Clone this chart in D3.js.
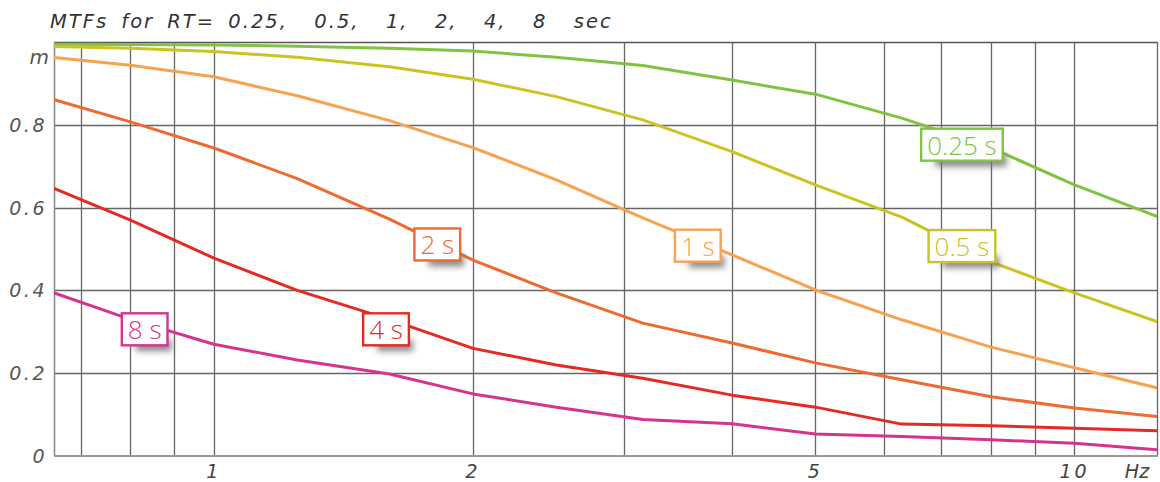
<!DOCTYPE html>
<html>
<head>
<meta charset="utf-8">
<script src="https://cdn.jsdelivr.net/npm/d3@7/dist/d3.min.js"></script>
<style>
  html, body { margin: 0; padding: 0; background: #fff; }
  svg { display: block; }
</style>
</head>
<body>
<svg id="chart" width="1160" height="482"></svg>
<script>
// One-third-octave modulation frequencies (Hz)
const freqs = [0.63, 0.8, 1, 1.25, 1.6, 2, 2.5, 3.15, 4, 5, 6.3, 8, 10, 12.5];

// Modulation transfer values m(F) for each reverberation time
const rt025 = [0.995, 0.994, 0.993, 0.990, 0.985, 0.978, 0.963, 0.943, 0.908, 0.874, 0.816, 0.744, 0.655, 0.578];
const rt05  = [0.990, 0.985, 0.977, 0.963, 0.940, 0.910, 0.868, 0.812, 0.735, 0.655, 0.577, 0.469, 0.394, 0.324];
const rt1   = [0.966, 0.944, 0.916, 0.870, 0.810, 0.745, 0.667, 0.575, 0.486, 0.401, 0.329, 0.263, 0.213, 0.164];
const rt2   = [0.870, 0.807, 0.744, 0.670, 0.572, 0.473, 0.394, 0.321, 0.273, 0.225, 0.184, 0.143, 0.116, 0.095];
const rt4   = [0.659, 0.570, 0.478, 0.400, 0.330, 0.260, 0.220, 0.188, 0.147, 0.118, 0.077, 0.073, 0.067, 0.061];
const rt8   = [0.405, 0.330, 0.270, 0.232, 0.198, 0.150, 0.118, 0.088, 0.078, 0.053, 0.047, 0.039, 0.031, 0.015];

const seriesNames  = ["0.25 s", "0.5 s", "1 s", "2 s", "4 s", "8 s"];
const seriesValues = [rt025, rt05, rt1, rt2, rt4, rt8];
const seriesColors = ["#80c342", "#cbc322", "#f6a24f", "#ee6a30", "#e42a21", "#d5338d"];

// Where each curve's tag sits: [frequency, m] of the tag centre
const tagFreq = [7.40, 7.40, 3.65, 1.818, 1.585, 0.831];
const tagM    = [0.752, 0.507, 0.508, 0.511, 0.306, 0.306];

// Axis ticks
const xGridTicks = [0.7, 0.8, 0.9, 1, 2, 3, 4, 5, 6, 7, 8, 9, 10];
const xTickLabels = [1, 2, 5, 10];
const yGridTicks = [0.2, 0.4, 0.6, 0.8];
const yTickLabels = [0, 0.2, 0.4, 0.6, 0.8];
const titleText = "MTFs for RT= 0.25,  0.5,  1,  2,  4,  8  sec";

const svg = d3.select("#chart");
const plot = { left: 54, right: 1157, top: 42, bottom: 456 };

const x = d3.scaleLog().domain([0.652, 12.47]).range([plot.left, plot.right]);
const y = d3.scaleLinear().domain([0, 1]).range([plot.bottom, plot.top]);

const defs = svg.append("defs");
defs.append("clipPath").attr("id", "plotClip")
  .append("rect")
  .attr("x", plot.left).attr("y", plot.top - 4)
  .attr("width", plot.right - plot.left).attr("height", plot.bottom - plot.top + 4);
defs.append("filter").attr("id", "soft")
  .attr("x", "-30%").attr("y", "-60%").attr("width", "160%").attr("height", "220%")
  .append("feGaussianBlur").attr("stdDeviation", 3);

// Grid
const grid = svg.append("g");
grid.selectAll("line.v").data(xGridTicks).join("line")
  .attr("class", "v")
  .attr("x1", d => Math.round(x(d)) + 0.5).attr("x2", d => Math.round(x(d)) + 0.5)
  .attr("y1", plot.top).attr("y2", plot.bottom)
  .attr("stroke", "#666").attr("stroke-width", 1.3);
grid.selectAll("line.h").data(yGridTicks).join("line")
  .attr("class", "h")
  .attr("x1", plot.left).attr("x2", plot.right)
  .attr("y1", d => Math.round(y(d)) + 0.5).attr("y2", d => Math.round(y(d)) + 0.5)
  .attr("stroke", "#666").attr("stroke-width", 1.3);

// Frame
svg.append("line").attr("x1", plot.left).attr("x2", plot.right)
  .attr("y1", plot.top + 0.5).attr("y2", plot.top + 0.5)
  .attr("stroke", "#555").attr("stroke-width", 1.3);
svg.append("line").attr("x1", plot.right + 0.5).attr("x2", plot.right + 0.5)
  .attr("y1", plot.top).attr("y2", plot.bottom)
  .attr("stroke", "#666").attr("stroke-width", 1.3);
svg.append("line").attr("x1", plot.left + 0.5).attr("x2", plot.left + 0.5)
  .attr("y1", plot.top).attr("y2", plot.bottom)
  .attr("stroke", "#888").attr("stroke-width", 1.5);
svg.append("line").attr("x1", plot.left).attr("x2", plot.right + 1)
  .attr("y1", plot.bottom).attr("y2", plot.bottom)
  .attr("stroke", "#999").attr("stroke-width", 2);

// Curves
const line = d3.line().x((d, i) => x(freqs[i])).y(d => y(d));
const curves = svg.append("g").attr("clip-path", "url(#plotClip)");
curves.selectAll("path").data(seriesValues).join("path")
  .attr("d", line)
  .attr("fill", "none")
  .attr("stroke", (d, i) => seriesColors[i])
  .attr("stroke-width", 3)
  .attr("stroke-linejoin", "round");

// Curve tags: boxed labels with a soft shadow beneath
const tags = svg.append("g");
seriesNames.forEach((name, i) => {
  const cx = x(tagFreq[i]), cy = y(tagM[i]);
  const g = tags.append("g");
  const shadow = g.append("rect");
  const box = g.append("rect");
  const t = g.append("text")
    .attr("x", cx).attr("y", cy)
    .attr("text-anchor", "middle")
    .attr("dominant-baseline", "central")
    .attr("font-family", "'Open Sans', 'Noto Sans', sans-serif")
    .attr("font-weight", 300)
    .attr("font-size", 26)
    .attr("fill", seriesColors[i])
    .text(name);
  const bb = t.node().getBBox();
  const w = bb.width + 12, h = 32;
  box.attr("x", cx - w / 2).attr("y", cy - h / 2)
    .attr("width", w).attr("height", h)
    .attr("fill", "#fff").attr("stroke", seriesColors[i]).attr("stroke-width", 2.4);
  shadow.attr("x", cx - w / 2 + 14).attr("y", cy + h / 2 - 6)
    .attr("width", w - 10).attr("height", 12)
    .attr("fill", "#6f6f6f").attr("opacity", 0.8)
    .attr("filter", "url(#soft)");
});

// Axis text
const axisFont = "'DejaVu Sans', sans-serif";
svg.append("text")
  .attr("x", 50).attr("y", 28)
  .attr("font-family", axisFont).attr("font-style", "italic")
  .attr("font-size", 19.5).attr("fill", "#333")
  .attr("letter-spacing", 2).attr("word-spacing", 5)
  .style("white-space", "pre")
  .text(titleText);

svg.selectAll("text.ylab").data(yTickLabels).join("text")
  .attr("class", "ylab")
  .attr("x", 47).attr("y", d => y(d))
  .attr("text-anchor", "end").attr("dominant-baseline", "central")
  .attr("font-family", axisFont).attr("font-style", "italic")
  .attr("font-size", 19).attr("fill", "#555")
  .attr("letter-spacing", 2.5)
  .text(d => d === 0 ? "0" : d3.format(".1f")(d));

svg.append("text")
  .attr("x", 49).attr("y", 57)
  .attr("text-anchor", "end").attr("dominant-baseline", "central")
  .attr("font-family", axisFont).attr("font-style", "italic")
  .attr("font-size", 20).attr("fill", "#555")
  .text("m");

svg.selectAll("text.xlab").data(xTickLabels).join("text")
  .attr("class", "xlab")
  .attr("x", d => x(d)).attr("y", 471)
  .attr("text-anchor", "middle").attr("dominant-baseline", "central")
  .attr("font-family", axisFont).attr("font-style", "italic")
  .attr("font-size", 19).attr("fill", "#444")
  .attr("letter-spacing", 3)
  .text(d => d);

svg.append("text")
  .attr("x", 1137).attr("y", 471)
  .attr("text-anchor", "middle").attr("dominant-baseline", "central")
  .attr("font-family", axisFont).attr("font-style", "italic")
  .attr("font-size", 19).attr("fill", "#444")
  .text("Hz");
</script>
</body>
</html>
